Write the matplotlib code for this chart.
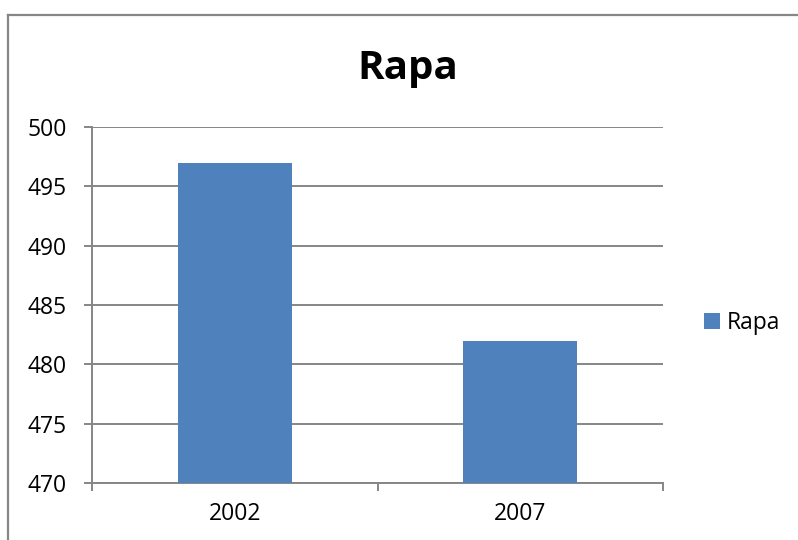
import matplotlib.pyplot as plt
from matplotlib.lines import Line2D

# chart data
years = ["2002", "2007"]
values = [497, 482]
series_name = "Rapa"

bar_color = "#4F81BD"
grid_color = "#868686"

plt.rcParams["font.family"] = ["Open Sans", "DejaVu Sans"]

fig = plt.figure(figsize=(7.98, 5.40), dpi=100)
ax = fig.add_axes([92 / 798, 1 - 483 / 540, 571 / 798, 356 / 540])

# outer chart border (only top and left edges visible in the crop)
fig.add_artist(Line2D([8 / 798, 8 / 798], [0, 1 - 15 / 540], transform=fig.transFigure,
                      color=grid_color, lw=1.6))
fig.add_artist(Line2D([8 / 798, 797 / 798], [1 - 15 / 540, 1 - 15 / 540], transform=fig.transFigure,
                      color=grid_color, lw=1.6))

x = range(len(years))
ax.bar(x, values, width=0.4, color=bar_color, label=series_name, zorder=3)

ax.set_xlim(-0.5, len(years) - 0.5)
ax.set_ylim(470, 500)
ax.set_yticks(range(470, 501, 5))
ax.yaxis.grid(True, color=grid_color, lw=1.4, zorder=0)

ax.set_xticks(list(x))
ax.set_xticklabels(years)
ax.set_xticks([-0.5, 0.5, 1.5], minor=True)
ax.tick_params(axis="x", which="major", length=0, pad=14, labelsize=16.5)
ax.tick_params(axis="x", which="minor", length=6, width=1.4, color=grid_color, direction="out")
ax.tick_params(axis="y", length=6, width=1.4, color=grid_color, pad=12, labelsize=16.5)

for side in ["top", "right"]:
    ax.spines[side].set_visible(False)
for side in ["left", "bottom"]:
    ax.spines[side].set_color(grid_color)
    ax.spines[side].set_linewidth(1.4)

fig.text(408 / 798, 1 - 68 / 540, "Rapa", ha="center", va="center",
         fontsize=29, fontweight="bold")

fig.legend(loc="center left", bbox_to_anchor=(704 / 798, 1 - 323 / 540), frameon=False,
           fontsize=16.5, handlelength=0.7, handleheight=0.7, handletextpad=0.3,
           borderaxespad=0, borderpad=0)

fig.savefig("out.png", dpi=100)
